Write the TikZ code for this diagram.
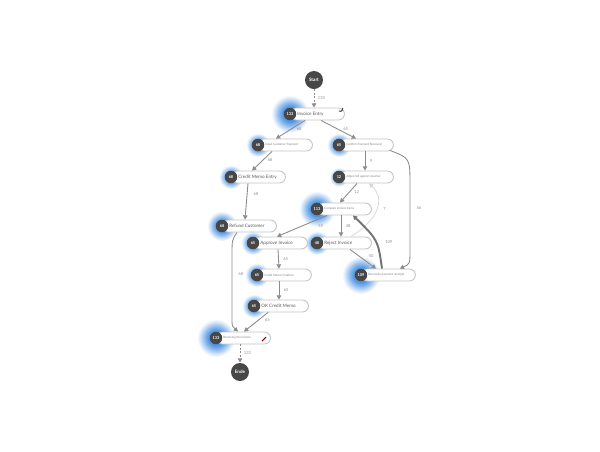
\documentclass[tikz,border=0pt]{standalone}
\usepackage{fontspec}
\setmainfont{Lato}
\usetikzlibrary{calc,arrows.meta}
\definecolor{dark}{HTML}{474747}
\definecolor{edgec}{HTML}{8C8C8C}
\definecolor{glowc}{HTML}{3F8BE0}
\definecolor{bord}{HTML}{C4C4C4}
\pgfdeclareradialshading{glowsh}{\pgfpoint{0bp}{0bp}}{color(0bp)=(glowc); color(10bp)=(glowc!90); color(15bp)=(glowc!60); color(20bp)=(glowc!28); color(23bp)=(glowc!10); color(25bp)=(white); color(50bp)=(white)}
\tikzset{
 box/.style={draw=bord, fill=white, line width=0.5pt, rounded corners=0.12cm, minimum width=1.08cm, minimum height=0.24cm, inner sep=0pt, anchor=west},
 num/.style={circle, fill=dark, minimum size=0.25cm, inner sep=0pt, text=white, font=\fontsize{2.2}{3}\selectfont\bfseries},
 txt/.style={anchor=west, inner sep=0pt, text=black!65, font=\fontsize{2.6}{3}\selectfont},
 stxt/.style={anchor=west, inner sep=0pt, text=black!50, font=\fontsize{1.7}{2}\selectfont},
 flow/.style={draw=edgec, line width=0.5pt, -{Triangle[length=2.4pt,width=2.6pt]}},
 lbl/.style={text=black!45, font=\fontsize{2.3}{3}\selectfont, inner sep=0.5pt},
 term/.style={circle, fill=dark, minimum size=0.36cm, inner sep=0pt, text=white, font=\fontsize{2.6}{3}\selectfont\bfseries},
 glow/.style={shading=glowsh},
 dots/.style={dash pattern=on 1pt off 1pt},
}
\begin{document}
\begin{tikzpicture}[x=0.02cm,y=-0.02cm]
\useasboundingbox (0,0) rectangle (600,451);
% glows
\shade[glow] (290,114) circle (0.38cm);
\shade[glow] (258,145) circle (0.24cm);
\shade[glow] (339,145) circle (0.24cm);
\shade[glow] (231,177) circle (0.24cm);
\shade[glow] (339,177) circle (0.19cm);
\shade[glow] (317,209) circle (0.36cm);
\shade[glow] (222,226) circle (0.3cm);
\shade[glow] (253,243) circle (0.24cm);
\shade[glow] (317,243) circle (0.24cm);
\shade[glow] (257,275) circle (0.24cm);
\shade[glow] (361,275) circle (0.38cm);
\shade[glow] (254,306) circle (0.24cm);
\shade[glow] (216,338) circle (0.38cm);
% terminals
\node[term] (start) at (314,80) {Start};
\node[term] (ende) at (240,372) {Ende};
% boxes
\node[box] (ie)  at (290,114) {};
\node[box] (icp) at (258,145) {};
\node[box] (cpr) at (339,145) {};
\node[box] (cme) at (231,177) {};
\node[box] (adj) at (339,177) {};
\node[box] (cmp) at (317,209) {};
\node[box] (ref) at (222,226) {};
\node[box] (app) at (253,243) {};
\node[box] (rej) at (317,243) {};
\node[box] (cmc) at (257,275) {};
\node[box] (rec) at (361,275) {};
\node[box] (okc) at (254,306) {};
\node[box] (rcv) at (216,338) {};
% number circles
\node[num] (ien)  at (290,114) {133};
\node[num] (icpn) at (258,145) {68};
\node[num] (cprn) at (339,145) {65};
\node[num] (cmen) at (231,177) {68};
\node[num] (adjn) at (339,177) {12};
\node[num] (cmpn) at (317,209) {113};
\node[num] (refn) at (222,226) {68};
\node[num] (appn) at (253,243) {65};
\node[num] (rejn) at (317,243) {48};
\node[num] (cmcn) at (257,275) {65};
\node[num] (recn) at (361,275) {109};
\node[num] (okcn) at (254,306) {65};
\node[num] (rcvn) at (216,338) {133};
% texts
\node[txt]  (iet)  at (297,114) {Invoice Entry};
\node[stxt] (icpt) at (265,145) {Input Customer Payment};
\node[stxt] (cprt) at (346,145) {Confirm Payment Received};
\node[txt]  (cmet) at (238,177) {Credit Memo Entry};
\node[stxt] (adjt) at (346,177) {Adjust bill against voucher};
\node[stxt] (cmpt) at (324,209) {Compare invoice items};
\node[txt]  (reft) at (229,226) {Refund Customer};
\node[txt]  (appt) at (260,243) {Approve Invoice};
\node[txt]  (rejt) at (324,243) {Reject Invoice};
\node[stxt] (cmct) at (264,275) {Credit Memo Creation};
\node[stxt] (rect) at (368,275) {Reconcile payment receipts};
\node[txt]  (okct) at (261,306) {OK Credit Memo};
\node[stxt] (rcvt) at (223,338) {Receiving the invoice};
% small marks
\draw[dark, line width=0.6pt] (339,111) arc (120:-20:2.5);
\draw[red!60!black, line width=0.6pt] (262,341) -- (266,337);
% edges
\draw[flow, dots] (start) -- (ie.north -| start) node[lbl, midway, right=1.5pt] {133};
\draw[flow] ($(ie.south west)+(15,0)$) -- node[lbl, pos=0.45, right=2pt] {68} ($(icp.north west)+(18,0)$);
\draw[flow] ($(ie.south west)+(31,0)$) -- node[lbl, pos=0.5, right=2pt] {65} ($(cpr.north west)+(17,0)$);
\draw[flow] ($(icp.south west)+(14,0)$) -- node[lbl, pos=0.45, right=2pt] {68} ($(cme.north west)+(21,0)$);
\draw[flow] ($(cpr.south west)+(26,0)$) -- node[lbl, midway, right=2pt] {9} ($(adj.north west)+(26,0)$);
\draw[flow] ($(cpr.south east)+(-4,-1)$) .. controls (410,158) .. (410,185) -- (410,250) node[lbl, pos=0.35, right=3pt] {56} .. controls (410,264) .. ($(rec.north east)+(-16,0)$);
\draw[flow] ($(adj.south west)+(18,0)$) -- node[lbl, pos=0.45, right=2pt] {12} ($(cmp.north west)+(23,0)$);
\draw[flow, draw=black!15, line width=0.45pt] ($(rej.north west)+(34,0)$) .. controls (385,215) and (382,195) .. node[lbl, pos=0.45, right=3pt] {7} ($(adj.south west)+(30,0)$);
\draw[flow] ($(cmp.south west)+(10,0)$) -- node[lbl, pos=0.25, below right=1.5pt] {55} ($(app.north west)+(24,0)$);
\draw[flow] ($(cmp.south west)+(24,0)$) -- node[lbl, midway, right=2pt] {48} ($(rej.north west)+(24,0)$);
\draw[flow, draw=black!55, line width=1.1pt] ($(rec.north west)+(21,0)$) .. controls (378,240) .. node[lbl, pos=0.45, right=4pt] {109} ($(cmp.south west)+(36,0)$);
\draw[flow] ($(rej.south west)+(33,0)$) -- node[lbl, pos=0.6, above right=1pt] {40} ($(rec.north west)+(15,0)$);
\draw[flow] ($(cme.south west)+(17,0)$) -- node[lbl, pos=0.3, right=3pt] {68} ($(ref.north west)+(23,0)$);
\draw[flow] ($(app.south west)+(25,0)$) -- node[lbl, midway, right=2pt] {65} ($(cmc.north west)+(22,0)$);
\draw[flow] ($(cmc.south west)+(22,0)$) -- node[lbl, midway, right=2pt] {65} ($(okc.north west)+(25,0)$);
\draw[flow] ($(okc.south west)+(14,0)$) -- node[lbl, pos=0.4, right=3pt] {65} ($(rcv.north west)+(28,0)$);
\draw[flow] ($(ref.south west)+(15,0)$) .. controls (232,240) .. (232,255) -- node[lbl, pos=0.3, right=3pt] {68} (232,318) .. controls (232,326) .. ($(rcv.north west)+(22,0)$);
\draw[flow, dots] (rcv.south -| ende) -- node[lbl, midway, right=1.5pt] {133} (ende);
\end{tikzpicture}
\end{document}
